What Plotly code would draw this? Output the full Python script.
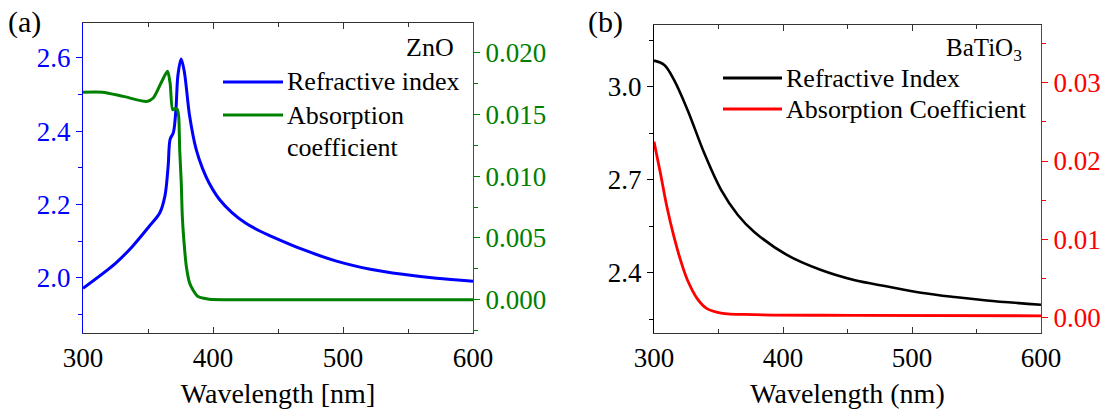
import plotly.graph_objects as go

# ---------------- data ----------------
# Panel (a): ZnO
zno_n_wl = [300, 325, 338, 351, 359, 363, 365.5, 367, 369.5, 371.5, 373, 375.5, 378, 382, 387,
            392, 397, 405, 415, 425, 436, 444, 469.5, 495, 521, 546, 572, 600]
zno_n = [1.972, 2.040, 2.086, 2.141, 2.177, 2.223, 2.305, 2.378, 2.396, 2.460, 2.552, 2.597, 2.561,
         2.442, 2.351, 2.298, 2.259, 2.214, 2.177, 2.150, 2.128, 2.115, 2.077, 2.046, 2.024,
         2.010, 1.999, 1.991]

zno_a_wl = [300, 315, 331, 349, 354, 360, 365, 367, 369, 371, 372.5, 373.6, 374.4, 375.6, 376.4,
            378.2, 379.5, 382, 384.6, 388.5, 397, 420, 600]
zno_a = [0.0168, 0.0168, 0.01646, 0.01605, 0.01633, 0.01754, 0.01849, 0.01754, 0.01538, 0.01548,
         0.01540, 0.01484, 0.0121, 0.00944, 0.00674, 0.00403, 0.00268, 0.00134, 0.00079, 0.00025,
         0.00004, 0.0, 0.0]

# Panel (b): BaTiO3
bto_n_wl = [300, 308, 315.5, 326, 339, 352, 365, 377.5, 403, 429, 455, 481, 507, 533, 558, 600]
bto_n = [3.085, 3.071, 3.023, 2.926, 2.786, 2.668, 2.587, 2.533, 2.458, 2.410, 2.377, 2.356,
         2.336, 2.322, 2.311, 2.297]

bto_a_wl = [300, 305, 310, 315.5, 321, 326, 333.5, 341, 352, 377.5, 455, 600]
bto_a = [0.02248, 0.01842, 0.01414, 0.01029, 0.00709, 0.00474, 0.00240, 0.00112, 0.00055,
         0.00035, 0.00026, 0.0002]

x_ticks = [300, 400, 500, 600]

# ---------------- styling ----------------
W, H = 1101, 411
FONT = "Liberation Serif"
BLUE, GREEN, BLACK, RED = "#0000FF", "#008000", "#000000", "#FF0000"
AX = "#333333"

def px_x(p):
    return p / W

def px_y(p):
    return 1 - p / H

fig = go.Figure()
fig.add_trace(go.Scatter(x=zno_n_wl, y=zno_n, mode="lines", line=dict(color=BLUE, width=3, shape="spline", smoothing=0.9),
                         xaxis="x", yaxis="y", showlegend=False))
fig.add_trace(go.Scatter(x=zno_a_wl, y=zno_a, mode="lines", line=dict(color=GREEN, width=3, shape="spline", smoothing=0.7),
                         xaxis="x", yaxis="y2", showlegend=False))
fig.add_trace(go.Scatter(x=bto_n_wl, y=bto_n, mode="lines", line=dict(color=BLACK, width=2.6, shape="spline", smoothing=1.0),
                         xaxis="x2", yaxis="y3", showlegend=False))
fig.add_trace(go.Scatter(x=bto_a_wl, y=bto_a, mode="lines", line=dict(color=RED, width=2.8, shape="spline", smoothing=1.0),
                         xaxis="x2", yaxis="y4", showlegend=False))


def xaxis(domain, anchor, title):
    return dict(domain=domain, anchor=anchor, range=[300, 600], tickvals=x_ticks,
                ticks="inside", ticklen=6, tickwidth=1, tickcolor=AX,
                showline=True, linecolor=AX, linewidth=1.2, mirror="ticks",
                showgrid=False, zeroline=False, tickfont=dict(family=FONT, size=27, color=BLACK),
                minor=dict(ticks="inside", dtick=50, tick0=300, ticklen=4, tickcolor=AX),
                title=dict(text=title, font=dict(family=FONT, size=28, color=BLACK), standoff=11),
                automargin=False)

def yaxis(domain, anchor, rng, dtick, tick0, mdtick, mtick0, fmt, color, side="left", overlay=None):
    d = dict(domain=domain, anchor=anchor, range=rng, dtick=dtick, tick0=tick0, tickformat=fmt,
             ticks="outside", ticklen=6, tickwidth=1, tickcolor=color,
             showline=True, linecolor=color, linewidth=1.2, side=side,
             showgrid=False, zeroline=False, tickfont=dict(family=FONT, size=27, color=color),
             minor=dict(ticks="outside", dtick=mdtick, tick0=mtick0, ticklen=4, tickcolor=color),
             automargin=False)
    if overlay:
        d["overlaying"] = overlay
    return d

dom_a_x = [px_x(83), px_x(473)]
dom_b_x = [px_x(654), px_x(1041)]
dom_a_y = [px_y(333), px_y(23)]
dom_b_y = [px_y(333), px_y(25)]

fig.update_layout(
    width=W, height=H,
    margin=dict(l=0, r=0, t=0, b=0),
    paper_bgcolor="white", plot_bgcolor="white",
    font=dict(family=FONT, color=BLACK),
    xaxis=xaxis(dom_a_x, "y", "Wavelength [nm]"),
    yaxis=yaxis(dom_a_y, "x", [1.85, 2.695], 0.2, 2.0, 0.1, 1.9, ".1f", BLUE),
    yaxis2=yaxis(dom_a_y, "x", [-0.0027, 0.0224], 0.005, 0, 0.0025, 0, ".3f", GREEN, side="right", overlay="y"),
    xaxis2=xaxis(dom_b_x, "y3", "Wavelength (nm)"),
    yaxis3=yaxis(dom_b_y, "x2", [2.206, 3.2], 0.3, 2.4, 0.15, 2.25, ".1f", BLACK),
    yaxis4=yaxis(dom_b_y, "x2", [-0.002, 0.0374], 0.01, 0, 0.005, 0, ".2f", RED, side="right", overlay="y3"),
    showlegend=False,
)

# legend keys (drawn as paper-space decorations)
shapes = [
    dict(type="line", xref="paper", yref="paper", x0=px_x(223), x1=px_x(283), y0=px_y(82), y1=px_y(82),
         line=dict(color=BLUE, width=3)),
    dict(type="line", xref="paper", yref="paper", x0=px_x(223), x1=px_x(283), y0=px_y(115), y1=px_y(115),
         line=dict(color=GREEN, width=3)),
    dict(type="line", xref="paper", yref="paper", x0=px_x(723), x1=px_x(782), y0=px_y(78), y1=px_y(78),
         line=dict(color=BLACK, width=3)),
    dict(type="line", xref="paper", yref="paper", x0=px_x(723), x1=px_x(782), y0=px_y(109), y1=px_y(109),
         line=dict(color=RED, width=3)),
]
fig.update_layout(shapes=shapes)

def ann(text, x, y, size=26, xanchor="left", yanchor="middle"):
    fig.add_annotation(text=text, x=px_x(x), y=px_y(y), xref="paper", yref="paper",
                       xanchor=xanchor, yanchor=yanchor, showarrow=False,
                       font=dict(family=FONT, size=size, color=BLACK), align="left")

ann("(a)", 6, 22, size=30)
ann("(b)", 586, 22, size=30)
ann("ZnO", 456, 48, size=26, xanchor="right")
ann("BaTiO<sub>3</sub>", 1024, 50, size=25, xanchor="right")
ann("Refractive index", 285, 82)
ann("Absorption", 285, 115)
ann("coefficient", 285, 147)
ann("Refractive Index", 784, 78)
ann("Absorption Coefficient", 784, 109)

fig.write_html("out.html")
